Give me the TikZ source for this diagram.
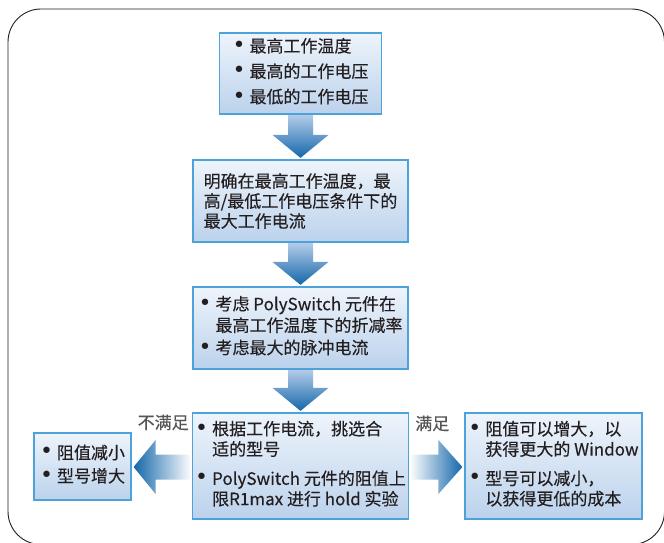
\documentclass[tikz,border=0pt]{standalone}
\usepackage{fontspec}
\setmainfont{Noto Sans CJK SC}[FakeBold=0.3]
\newfontfamily\dotfont{DejaVu Sans}
\usetikzlibrary{calc, positioning}

\definecolor{boxline}{HTML}{4DA3D9}
\definecolor{boxtop}{HTML}{EEF4FB}
\definecolor{boxbottom}{HTML}{BBD2EC}
\definecolor{arrowpale}{HTML}{B3CBE8}
\definecolor{arrowmid}{HTML}{5B8FC8}
\definecolor{arrowdeep}{HTML}{1467AA}
\definecolor{inktext}{HTML}{231F20}
\definecolor{tagtext}{HTML}{555555}

\tikzset{
    stage/.style={draw=boxline, line width=1.2pt, top color=boxtop, bottom color=boxbottom,
        align=left, inner sep=0pt, text=inktext, font=\fontsize{17}{20}\selectfont},
    varrow/.style={top color=arrowpale, bottom color=arrowdeep},
    larrow/.style={left color=arrowdeep, middle color=arrowmid, right color=white},
    rarrow/.style={left color=white, middle color=arrowmid, right color=arrowdeep},
    tag/.style={text=tagtext, inner sep=0pt, font=\fontsize{17}{20}\selectfont}
}

\newcommand{\bul}{{\dotfont\fontsize{22}{20}\selectfont •}}

% block arrow pointing down from one box to the next
\newcommand{\flowdown}[2]{%
    \coordinate (tail) at ($(#1.south)+(0,-0.6)$);
    \coordinate (tip) at ($(#2.north)+(0,1.5)$);
    \path[varrow] ($(tail)+(-\shafthalf,0)$) -- ($(tip)+(-\shafthalf,\headlen)$)
        -- ($(tip)+(-\headhalf,\headlen)$) -- (tip) -- ($(tip)+(\headhalf,\headlen)$)
        -- ($(tip)+(\shafthalf,\headlen)$) -- ($(tail)+(\shafthalf,0)$) -- cycle;}

\begin{document}
\begin{tikzpicture}[x=1pt, y=1pt]
    \useasboundingbox (0,0) rectangle (664,542);
    \def\shafthalf{12.5}
    \def\headhalf{28}
    \def\headlen{23}

    % Outer frame
    \draw[inktext, line width=0.9pt, rounded corners=33pt] (8,-2.5) rectangle (664.5,533);

    % Main column
    \node[stage, minimum width=162pt, minimum height=81pt] (limits) at (300.5,468.5)
        {\begin{tabular}{@{}c@{\hspace{4pt}}l@{}}
        \bul&最高工作温度\\[5pt]
        \bul&最高的工作电压\\[5pt]
        \bul&最低的工作电压
        \end{tabular}};
    \node[stage, minimum width=215pt, minimum height=82pt] (current) at (300.5,341)
        {明确在最高工作温度，最\\高/最低工作电压条件下的\\最大工作电流};
    \node[stage, minimum width=215pt, minimum height=82pt] (derate) at (300.5,214)
        {\begin{tabular}{@{}c@{\hspace{4pt}}l@{}}
        \bul&考虑 PolySwitch 元件在\\[1pt]
        &最高工作温度下的折减率\\[2pt]
        \bul&考虑最大的脉冲电流
        \end{tabular}};
    \node[stage, minimum width=216pt, minimum height=106pt] (select) at (300.5,76)
        {\begin{tabular}{@{}c@{\hspace{4pt}}l@{}}
        \bul&根据工作电流，挑选合\\
        &适的型号\\[9pt]
        \bul&PolySwitch 元件的阻值上\\
        &限R1max 进行 hold 实验
        \end{tabular}};

    % Outcomes
    \node[stage, minimum width=97pt, minimum height=67pt] (fail) at (82.5,75.5)
        {\begin{tabular}{@{}c@{\hspace{4pt}}l@{}}
        \bul&阻值减小\\[3pt]
        \bul&型号增大
        \end{tabular}};
    \node[stage, minimum width=177pt, minimum height=106pt] (pass) at (553.5,76)
        {\begin{tabular}{@{}c@{\hspace{4pt}}l@{}}
        \bul&阻值可以增大，以\\
        &获得更大的 Window\\[9pt]
        \bul&型号可以减小，\\
        &以获得更低的成本
        \end{tabular}};

    % Down arrows
    \flowdown{limits}{current}
    \flowdown{current}{derate}
    \flowdown{derate}{select}

    % Side arrows
    \coordinate (ltail) at ($(select.west |- fail.east)+(-0.6,-0.5)$);
    \coordinate (ltip) at ($(fail.east)+(2,-0.5)$);
    \path[larrow] ($(ltail)+(0,\shafthalf)$) -- ($(ltip)+(22,\shafthalf)$) -- ($(ltip)+(22,27)$)
        -- (ltip) -- ($(ltip)+(22,-27)$) -- ($(ltip)+(22,-\shafthalf)$) -- ($(ltail)+(0,-\shafthalf)$) -- cycle;
    \coordinate (rtail) at ($(select.east |- fail.east)+(0.6,-0.5)$);
    \coordinate (rtip) at ($(pass.west |- fail.east)+(-2,-0.5)$);
    \path[rarrow] ($(rtail)+(0,\shafthalf)$) -- ($(rtip)+(-24,\shafthalf)$) -- ($(rtip)+(-24,27)$)
        -- (rtip) -- ($(rtip)+(-24,-27)$) -- ($(rtip)+(-24,-\shafthalf)$) -- ($(rtail)+(0,-\shafthalf)$) -- cycle;

    \node[tag, anchor=east] (failtag) at ($(select.north west)+(-3,-10)$) {不满足};
    \node[tag, anchor=west] (passtag) at ($(select.north east)+(6,-11)$) {满足};
\end{tikzpicture}
\end{document}
